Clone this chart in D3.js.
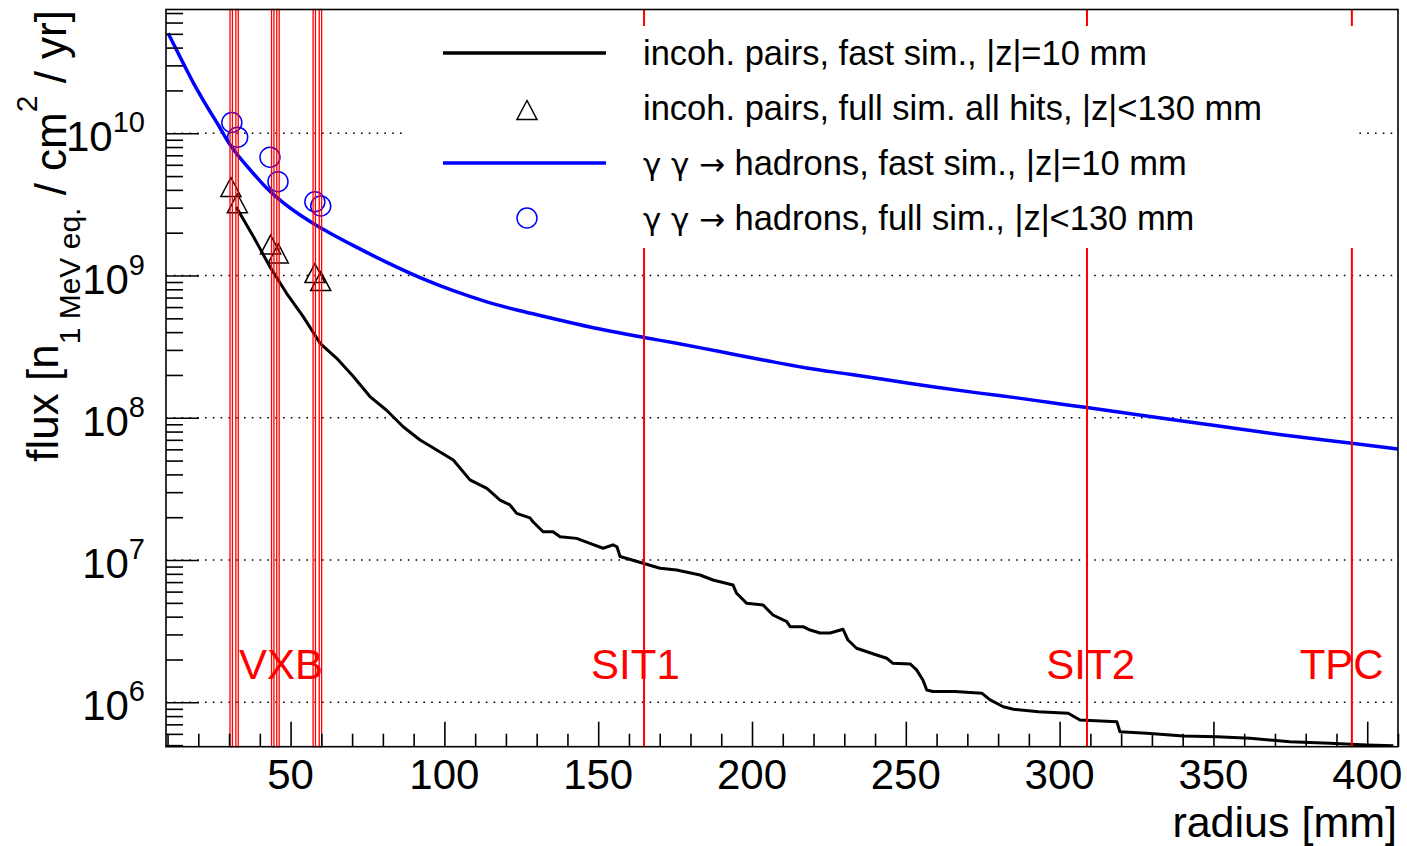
<!DOCTYPE html>
<html>
<head>
<meta charset="utf-8">
<script src="https://cdn.jsdelivr.net/npm/d3@7"></script>
<style>
  body { margin: 0; background: #fff; }
  svg { display: block; }
  text { font-family: "Liberation Sans", Arial, Helvetica, sans-serif; }
</style>
</head>
<body>
<svg id="chart" width="1407" height="846"></svg>
<script>
// incoherent pairs, fast simulation (black histogram)
const pairsFastR = [32.3, 37.9, 43.3, 48.7, 54.1, 59.6, 65.0, 70.4, 75.8, 81.2, 86.6, 92.1, 97.5, 102.9, 108.3, 113.8, 118.1, 121.3, 123.5, 127.8, 128.8, 132.1, 135.3, 137.6, 143.0, 147.3, 151.6, 154.8, 156.1, 157.1, 164.6, 170.1, 175.5, 183.1, 187.3, 193.8, 195.0, 198.3, 203.6, 206.8, 211.3, 212.4, 216.6, 218.9, 222.1, 225.4, 229.6, 231.2, 234.0, 240.5, 243.8, 245.8, 251.4, 253.5, 255.6, 256.8, 258.8, 266.0, 274.7, 277.4, 281.7, 285.0, 293.1, 302.8, 306.6, 318.6, 319.6, 328.3, 340.2, 351.1, 361.9, 374.9, 387.9, 399.8, 408.5];
const pairsFastFlux = [3.03e9, 1.88e9, 1.15e9, 7.50e8, 5.14e8, 3.34e8, 2.62e8, 1.95e8, 1.41e8, 1.13e8, 8.65e7, 6.98e7, 5.94e7, 5.05e7, 3.66e7, 3.19e7, 2.64e7, 2.44e7, 2.13e7, 1.98e7, 1.86e7, 1.58e7, 1.58e7, 1.46e7, 1.42e7, 1.31e7, 1.21e7, 1.28e7, 1.24e7, 1.06e7, 9.49e6, 8.75e6, 8.51e6, 7.85e6, 7.24e6, 6.68e6, 5.84e6, 4.96e6, 4.83e6, 4.11e6, 3.69e6, 3.40e6, 3.40e6, 3.22e6, 3.07e6, 3.07e6, 3.26e6, 2.74e6, 2.40e6, 2.15e6, 2.04e6, 1.88e6, 1.86e6, 1.69e6, 1.43e6, 1.22e6, 1.19e6, 1.19e6, 1.16e6, 1.04e6, 9.31e5, 8.93e5, 8.59e5, 8.37e5, 7.51e5, 7.31e5, 6.21e5, 6.05e5, 5.80e5, 5.73e5, 5.58e5, 5.29e5, 5.15e5, 5.01e5, 4.95e5];

// gamma gamma -> hadrons, fast simulation (blue curve)
const hadronsFastR = [10.2, 14.0, 18.4, 22.7, 26.5, 30.3, 36.8, 42.2, 47.6, 53.1, 59.0, 64.5, 70.0, 81.3, 92.1, 102.9, 113.8, 124.6, 133.2, 147.3, 164.9, 175.5, 189.5, 203.6, 217.7, 231.8, 245.8, 259.9, 274.0, 286.1, 296.9, 308.8, 329.4, 351.1, 372.7, 395.0, 410.0];
const hadronsFastFlux = [5.05e10, 3.46e10, 2.26e10, 1.556e10, 1.143e10, 8.32e9, 5.56e9, 4.12e9, 3.25e9, 2.66e9, 2.21e9, 1.897e9, 1.641e9, 1.236e9, 9.66e8, 7.82e8, 6.53e8, 5.65e8, 5.11e8, 4.35e8, 3.67e8, 3.34e8, 2.92e8, 2.55e8, 2.24e8, 2.02e8, 1.82e8, 1.64e8, 1.49e8, 1.38e8, 1.28e8, 1.18e8, 1.02e8, 8.79e7, 7.57e7, 6.62e7, 6.03e7];

// full simulation points
const pairsFullR = [30.6, 32.7, 43.5, 46.0, 57.9, 59.8];
const pairsFullFlux = [4.19e9, 3.22e9, 1.65e9, 1.43e9, 1.04e9, 9.14e8];
const hadronsFullR = [30.9, 32.8, 43.3, 45.9, 57.9, 59.8];
const hadronsFullFlux = [1.19e10, 9.38e9, 6.78e9, 4.57e9, 3.30e9, 3.08e9];

// detector layers
const vxbR = [30.7, 32.6, 44.2, 45.9, 57.7, 59.7];
const trackerR = [164.9, 308.9, 395.0];
const layerNames = ["VXB", "SIT1", "SIT2", "TPC"];
const layerLabelR = [46.9, 162.1, 310.1, 391.7];
const layerLabelFlux = 1.46e6;

// axes
const xMajor = [50, 100, 150, 200, 250, 300, 350, 400];
const xMinor = d3.range(10, 411, 10).filter(v => v % 50 !== 0);
const yDecades = [6, 7, 8, 9, 10];

const legendLabels = [
  "incoh. pairs, fast sim., |z|=10 mm",
  "incoh. pairs, full sim. all hits, |z|<130 mm",
  "\u03b3 \u03b3 \u2192 hadrons, fast sim., |z|=10 mm",
  "\u03b3 \u03b3 \u2192 hadrons, full sim., |z|<130 mm"
];

const plot = {left: 166, right: 1398, top: 9.5, bottom: 746.7};

const svg = d3.select("#chart");

const x = d3.scaleLinear().domain([9.5, 410]).range([plot.left, plot.right]);
const y = d3.scaleLog().domain([4.875e5, 7.41e10]).range([plot.bottom, plot.top]);

svg.append("defs").append("clipPath").attr("id", "clip")
  .append("rect")
  .attr("x", plot.left).attr("y", plot.top)
  .attr("width", plot.right - plot.left).attr("height", plot.bottom - plot.top);

// dotted grid at each decade
svg.append("g")
  .selectAll("line")
  .data(yDecades)
  .enter()
  .append("line")
  .attr("x1", plot.left).attr("x2", plot.right)
  .attr("y1", d => y(Math.pow(10, d))).attr("y2", d => y(Math.pow(10, d)))
  .attr("stroke", "#000")
  .attr("stroke-width", 1.4)
  .attr("stroke-dasharray", "1.6,6.2");

const curves = svg.append("g").attr("clip-path", "url(#clip)");

const line = d3.line()
  .x(d => x(d[0]))
  .y(d => y(d[1]));

curves.append("path")
  .datum(d3.zip(hadronsFastR, hadronsFastFlux))
  .attr("fill", "none")
  .attr("stroke", "#0000ff")
  .attr("stroke-width", 3.5)
  .attr("d", line.curve(d3.curveMonotoneX));

curves.append("path")
  .datum(d3.zip(pairsFastR, pairsFastFlux))
  .attr("fill", "none")
  .attr("stroke", "#000")
  .attr("stroke-width", 3)
  .attr("stroke-linejoin", "round")
  .attr("d", line.curve(d3.curveLinear));

const triPath = "M0,-9.5L10,9.5L-10,9.5Z";

svg.append("g")
  .selectAll("path")
  .data(d3.zip(pairsFullR, pairsFullFlux))
  .enter()
  .append("path")
  .attr("d", triPath)
  .attr("transform", d => `translate(${x(d[0])},${y(d[1])})`)
  .attr("fill", "none")
  .attr("stroke", "#000")
  .attr("stroke-width", 1.5);

svg.append("g")
  .selectAll("circle")
  .data(d3.zip(hadronsFullR, hadronsFullFlux))
  .enter()
  .append("circle")
  .attr("cx", d => x(d[0]))
  .attr("cy", d => y(d[1]))
  .attr("r", 10)
  .attr("fill", "none")
  .attr("stroke", "#0000ff")
  .attr("stroke-width", 1.5);

// detector layer lines
svg.append("g")
  .selectAll("rect")
  .data(vxbR)
  .enter()
  .append("rect")
  .attr("x", d => x(d) - 1.2)
  .attr("y", plot.top)
  .attr("width", 2.4)
  .attr("height", plot.bottom - plot.top)
  .attr("fill", "none")
  .attr("stroke", "#ff0000")
  .attr("stroke-width", 1.3);

svg.append("g")
  .selectAll("line")
  .data(trackerR)
  .enter()
  .append("line")
  .attr("x1", d => x(d)).attr("x2", d => x(d))
  .attr("y1", plot.top).attr("y2", plot.bottom)
  .attr("stroke", "#ff0000")
  .attr("stroke-width", 2);

svg.append("g")
  .selectAll("text")
  .data(layerNames)
  .enter()
  .append("text")
  .attr("x", (d, i) => x(layerLabelR[i]))
  .attr("y", y(layerLabelFlux))
  .attr("text-anchor", "middle")
  .attr("font-size", 42)
  .attr("fill", "#ff0000")
  .text(d => d);

// legend
const legend = svg.append("g");
legend.append("rect")
  .attr("x", 406).attr("y", 26)
  .attr("width", 948).attr("height", 222)
  .attr("fill", "#fff");

const rowY = [53, 108, 163, 218];
legend.append("line")
  .attr("x1", 443).attr("x2", 606).attr("y1", rowY[0]).attr("y2", rowY[0])
  .attr("stroke", "#000").attr("stroke-width", 3.5);
legend.append("path")
  .attr("d", triPath)
  .attr("transform", `translate(527,${rowY[1] + 2})`)
  .attr("fill", "none").attr("stroke", "#000").attr("stroke-width", 1.5);
legend.append("line")
  .attr("x1", 443).attr("x2", 606).attr("y1", rowY[2]).attr("y2", rowY[2])
  .attr("stroke", "#0000ff").attr("stroke-width", 3.5);
legend.append("circle")
  .attr("cx", 527).attr("cy", rowY[3])
  .attr("r", 10)
  .attr("fill", "none").attr("stroke", "#0000ff").attr("stroke-width", 1.5);

const legendText = legend.selectAll("text")
  .data(legendLabels)
  .enter()
  .append("text")
  .attr("x", 643)
  .attr("y", (d, i) => rowY[i] + 12)
  .attr("font-size", 34.5)
  .attr("fill", "#000");

// greek letters and arrow in a symbol-like face
legendText.each(function (d) {
  const t = d3.select(this);
  d.split(/([\u03b3\u2192])/).filter(s => s.length).forEach(s => {
    const span = t.append("tspan").text(s);
    if (s === "\u03b3" || s === "\u2192") span.attr("font-family", "'DejaVu Sans', sans-serif").attr("font-size", 31);
  });
});

// frame
svg.append("rect")
  .attr("x", plot.left).attr("y", plot.top)
  .attr("width", plot.right - plot.left).attr("height", plot.bottom - plot.top)
  .attr("fill", "none")
  .attr("stroke", "#000")
  .attr("stroke-width", 1.6);

// axes ticks (drawn inward)
const yMinor = [];
yDecades.concat([5]).forEach(e => {
  for (let k = 2; k <= 9; k++) {
    const v = k * Math.pow(10, e);
    if (v >= y.domain()[0] && v <= y.domain()[1]) yMinor.push(v);
  }
});

function axisStyle(g) {
  g.select(".domain").remove();
  g.selectAll(".tick line").attr("stroke", "#000").attr("stroke-width", 1.6);
}

svg.append("g")
  .attr("transform", `translate(${plot.left},0)`)
  .call(d3.axisLeft(y).tickValues(yDecades.map(e => Math.pow(10, e))).tickSize(-33).tickFormat(""))
  .call(axisStyle);
svg.append("g")
  .attr("transform", `translate(${plot.left},0)`)
  .call(d3.axisLeft(y).tickValues(yMinor).tickSize(-17).tickFormat(""))
  .call(axisStyle);

svg.append("g")
  .attr("transform", `translate(0,${plot.bottom})`)
  .call(d3.axisBottom(x).tickValues(xMajor).tickSize(-25).tickFormat(""))
  .call(axisStyle);
svg.append("g")
  .attr("transform", `translate(0,${plot.bottom})`)
  .call(d3.axisBottom(x).tickValues(xMinor).tickSize(-13).tickFormat(""))
  .call(axisStyle);

// tick labels
svg.append("g")
  .selectAll("text")
  .data(xMajor)
  .enter()
  .append("text")
  .attr("x", d => x(d))
  .attr("y", 789)
  .attr("text-anchor", "middle")
  .attr("font-size", 42)
  .text(d => d);

const yLabels = svg.append("g")
  .selectAll("text")
  .data(yDecades)
  .enter()
  .append("text")
  .attr("x", 145)
  .attr("y", d => y(Math.pow(10, d)) + 18)
  .attr("text-anchor", "end")
  .attr("font-size", 42);
yLabels.append("tspan").text("10");
yLabels.append("tspan").attr("font-size", 29).attr("dy", -19).text(d => d);

// axis titles
svg.append("text")
  .attr("x", 1397)
  .attr("y", 837)
  .attr("text-anchor", "end")
  .attr("font-size", 43)
  .text("radius [mm]");

const yTitle = svg.append("text")
  .attr("transform", "translate(66,10) rotate(-90)")
  .attr("text-anchor", "end")
  .attr("font-size", 44);
yTitle.append("tspan").attr("dy", -8).text("flux [n");
yTitle.append("tspan").attr("font-size", 30).attr("dy", 22).text("1 MeV eq.");
yTitle.append("tspan").attr("dy", -14).text(" / cm");
yTitle.append("tspan").attr("font-size", 30).attr("dy", -29).text("2");
yTitle.append("tspan").attr("dy", 29).text(" / yr]");
</script>
</body>
</html>
